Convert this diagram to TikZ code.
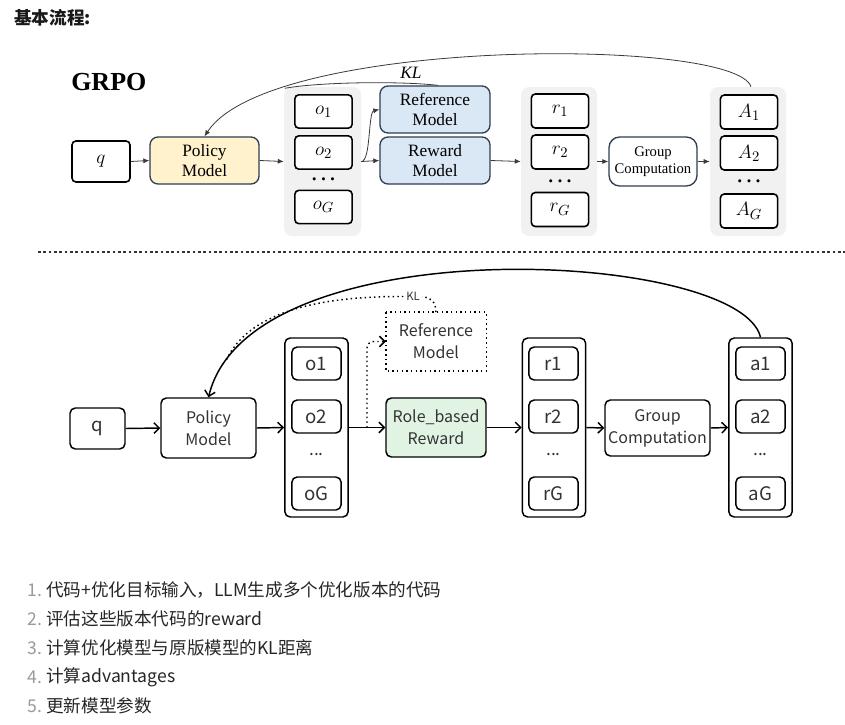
\documentclass[tikz,border=0pt]{standalone}
\usepackage{fontspec}
\setmainfont{Liberation Serif}
\newfontfamily\cjk{Noto Sans CJK SC}
\usetikzlibrary{arrows.meta,calc}
\definecolor{polfill}{HTML}{FFF2CC}
\definecolor{bluefill}{HTML}{DAE7F4}
\definecolor{tborder}{HTML}{2F3E52}
\definecolor{bgray}{HTML}{F1F1F1}
\definecolor{greenfill}{HTML}{E1F4E4}
\definecolor{btext}{HTML}{333333}
\definecolor{numgray}{HTML}{9A9A9A}
\definecolor{arcgray}{HTML}{3A3A3A}
\begin{document}
\begin{tikzpicture}[x=0.75pt,y=-0.75pt,
  tbg/.style={fill=bgray, rounded corners=6pt, inner sep=0pt},
  tsmall/.style={draw=black, line width=1.2pt, rounded corners=3pt, fill=white, inner sep=0pt,
    minimum width=43pt, minimum height=25pt, font=\fontsize{15}{17}\selectfont},
  tmodel/.style={draw=tborder, line width=1pt, rounded corners=6pt, inner sep=0pt, align=center,
    font=\fontsize{13}{15.5}\selectfont},
  tline/.style={draw=arcgray, line width=0.6pt},
  tarrow/.style={tline, -{Latex[length=4.5pt,width=3.8pt]}},
  tdots/.style={font=\fontsize{9.5}{10}\selectfont, inner sep=0pt},
  bcont/.style={draw=black, line width=1.1pt, rounded corners=4pt, inner sep=0pt,
    minimum width=47.5pt, minimum height=134.25pt},
  bsmall/.style={draw=black, line width=1.1pt, rounded corners=4pt, inner sep=0pt, fill=white,
    minimum width=37pt, minimum height=24.75pt, text=btext, font=\cjk\fontsize{14}{16}\selectfont},
  bmodel/.style={draw=black, line width=1.1pt, rounded corners=4pt, inner sep=0pt, align=center,
    text=btext, font=\cjk\fontsize{12}{16.5}\selectfont},
  barrow/.style={draw=black, line width=1.1pt, -{Straight Barb[length=4pt,width=8pt]}},
  dotline/.style={draw=black, line width=1.1pt, dash pattern=on 1.1pt off 2.4pt},
  bdots/.style={font=\cjk\fontsize{13}{14}\selectfont, text=btext, inner sep=0pt},
  numst/.style={anchor=west, inner sep=0pt, text=numgray, font=\cjk\fontsize{13.2}{15}\selectfont},
  itemst/.style={anchor=west, inner sep=0pt, text=black!85, font=\cjk\fontsize{13.2}{15}\selectfont}
]
\useasboundingbox (0,0) rectangle (845,724);
\fill[white] (0,0) rectangle (845,724);

% ---------- title ----------
\node[anchor=west, inner sep=0pt, font=\cjk\bfseries\fontsize{13.2}{15}\selectfont, text=black!90] (title) at (14,18) {基本流程:};

% ---------- top diagram ----------
\node[anchor=west, inner sep=0pt, font=\bfseries\fontsize{19.5}{22}\selectfont] (grpo) at (71,82) {GRPO};

\node[tbg, minimum width=57.75pt, minimum height=111.75pt] (obg) at (322.5,161.5) {};
\node[tbg, minimum width=57pt, minimum height=111.75pt] (rbg) at (559,161.5) {};
\node[tbg, minimum width=57pt, minimum height=111.75pt] (abg) at (748,161.5) {};

\node[tsmall, minimum width=43.5pt, minimum height=30.75pt] (q) at (101,161.5) {$q$};
\node[tmodel, fill=polfill, minimum width=81.75pt, minimum height=35.25pt] (pol) at (204.5,160.5) {Policy\\Model};

\node[tsmall] (o1) at (323.5,111.5) {$o_1$};
\node[tsmall] (o2) at (323.5,152.5) {$o_2$};
\node[tdots] (od) at (323.5,181) {•\hspace{3.5pt}•\hspace{3.5pt}•};
\node[tsmall] (oG) at (323.5,207) {$o_G$};

\node[tmodel, fill=bluefill, minimum width=82.5pt, minimum height=35.25pt] (ref) at (435,109.5) {Reference\\Model};
\node[tmodel, fill=bluefill, minimum width=82.5pt, minimum height=35.25pt] (rew) at (435,160.5) {Reward\\Model};

\node[tsmall, minimum height=25.5pt] (r1) at (560,111) {$r_1$};
\node[tsmall, minimum height=25.5pt] (r2) at (560,152) {$r_2$};
\node[tdots] (rd) at (560,183) {•\hspace{3.5pt}•\hspace{3.5pt}•};
\node[tsmall, minimum height=25.5pt] (rG) at (560,209.5) {$r_G$};

\node[tmodel, fill=white, minimum width=66pt, minimum height=36.75pt, rounded corners=8pt,
  font=\fontsize{11}{13}\selectfont] (gc) at (653,161.5) {Group\\Computation};

\node[tsmall, minimum height=25.5pt] (A1) at (749,112) {$A_1$};
\node[tsmall, minimum height=25.5pt] (A2) at (749,153) {$A_2$};
\node[tdots] (Ad) at (749,183) {•\hspace{3.5pt}•\hspace{3.5pt}•};
\node[tsmall, minimum height=25.5pt] (AG) at (749,211) {$A_G$};

\draw[tarrow] (q.east) -- (pol.west);
\draw[tarrow] (pol.east) -- (obg.west);
\draw[tarrow] (obg.east) -- (rew.west);
\draw[tarrow] (obg.east) .. controls (371,161.5) and (368,112) .. (ref.west);
\draw[tarrow] (rew.east) -- (rbg.west);
\draw[tarrow] (rbg.east) -- (gc.west);
\draw[tarrow] (gc.east) -- (abg.west);

\draw[tarrow] ($(abg.north)+(3,0)$) .. controls (735,37) and (270,37) .. (pol.north) coordinate[pos=0.8] (mtop);
\draw[tline] ($(ref.north)+(3,0)$) .. controls (400,81) and (320,82) .. (mtop);
\node[inner sep=1pt, font=\itshape\fontsize{13}{15}\selectfont] (kltop) at (411,73) {KL};

% ---------- divider ----------
\coordinate (dl) at (38,252);
\coordinate (dr) at (845,252);
\draw[line width=1.6pt, dash pattern=on 2pt off 2pt, black!80] (dl) -- (dr);

% ---------- bottom diagram ----------
\node[bsmall, minimum width=41.25pt, minimum height=30.75pt] (q2) at (97.5,428.5) {q};
\node[bmodel, minimum width=71.25pt, minimum height=45pt] (pol2) at (208.5,428) {Policy\\Model};

\node[bcont] (oc) at (316.5,427.5) {};
\node[bsmall] (bo1) at (316.5,363.5) {o1};
\node[bsmall] (bo2) at (316.5,416.5) {o2};
\node[bdots] (bod) at (316.5,455) {...};
\node[bsmall] (boG) at (316.5,493.5) {oG};

\node[bmodel, draw=none, minimum width=74.25pt, minimum height=43pt] (ref2) at (436,341.5) {Reference\\Model};
\draw[dotline] (ref2.north west) rectangle (ref2.south east);
\node[bmodel, fill=greenfill, minimum width=75pt, minimum height=44.25pt] (role) at (436,427.5) {Role\_based\\Reward};

\node[bcont] (rc) at (554,427.5) {};
\node[bsmall] (br1) at (553.5,363.5) {r1};
\node[bsmall] (br2) at (553.5,416.5) {r2};
\node[bdots] (brd) at (553.5,455) {...};
\node[bsmall] (brG) at (553.5,493.5) {rG};

\node[bmodel, minimum width=78.75pt, minimum height=42pt] (gc2) at (657.5,428) {Group\\Computation};

\node[bcont] (ac) at (760.5,427.5) {};
\node[bsmall] (ba1) at (760.5,363.5) {a1};
\node[bsmall] (ba2) at (760.5,416.5) {a2};
\node[bdots] (bad) at (760.5,455) {...};
\node[bsmall] (baG) at (760.5,493.5) {aG};

\draw[barrow] (q2.east) -- (pol2.west);
\draw[barrow] (pol2.east) -- (oc.west);
\draw[barrow] (oc.east) -- (role.west);
\draw[barrow] (role.east) -- (rc.west);
\draw[barrow] (rc.east) -- (gc2.west);
\draw[barrow] (gc2.east) -- (ac.west);

\coordinate (br) at (367,427.5);
\draw[dotline, rounded corners=5pt] (br) |- (ref2.west);
\draw[black, line width=1.1pt, -{Straight Barb[length=4pt,width=8pt]}] ($(ref2.west)+(-4,0)$) -- (ref2.west);

\draw[barrow] (ac.north) .. controls (740,250) and (250,225) .. (pol2.north) coordinate[pos=0.92] (mbot);
\draw[dotline] (ref2.north) .. controls (436,301) and (430,296.5) .. (418,296.5) -- (400,296.5)
  .. controls (300,296.5) and (245,320) .. (mbot);
\node[fill=white, inner sep=1.5pt, text=btext, font=\cjk\fontsize{8.5}{10}\selectfont] (klbot) at (413,296.5) {KL};

% ---------- list ----------
\node[numst] (n1) at (27,590) {1.};
\node[itemst] (t1) at (46,590) {代码+优化目标输入，LLM生成多个优化版本的代码};
\node[numst] (n2) at (27,619) {2.};
\node[itemst] (t2) at (46,619) {评估这些版本代码的reward};
\node[numst] (n3) at (27,648) {3.};
\node[itemst] (t3) at (46,648) {计算优化模型与原版模型的KL距离};
\node[numst] (n4) at (27,677) {4.};
\node[itemst] (t4) at (46,677) {计算advantages};
\node[numst] (n5) at (27,706) {5.};
\node[itemst] (t5) at (46,706) {更新模型参数};
\end{tikzpicture}
\end{document}
